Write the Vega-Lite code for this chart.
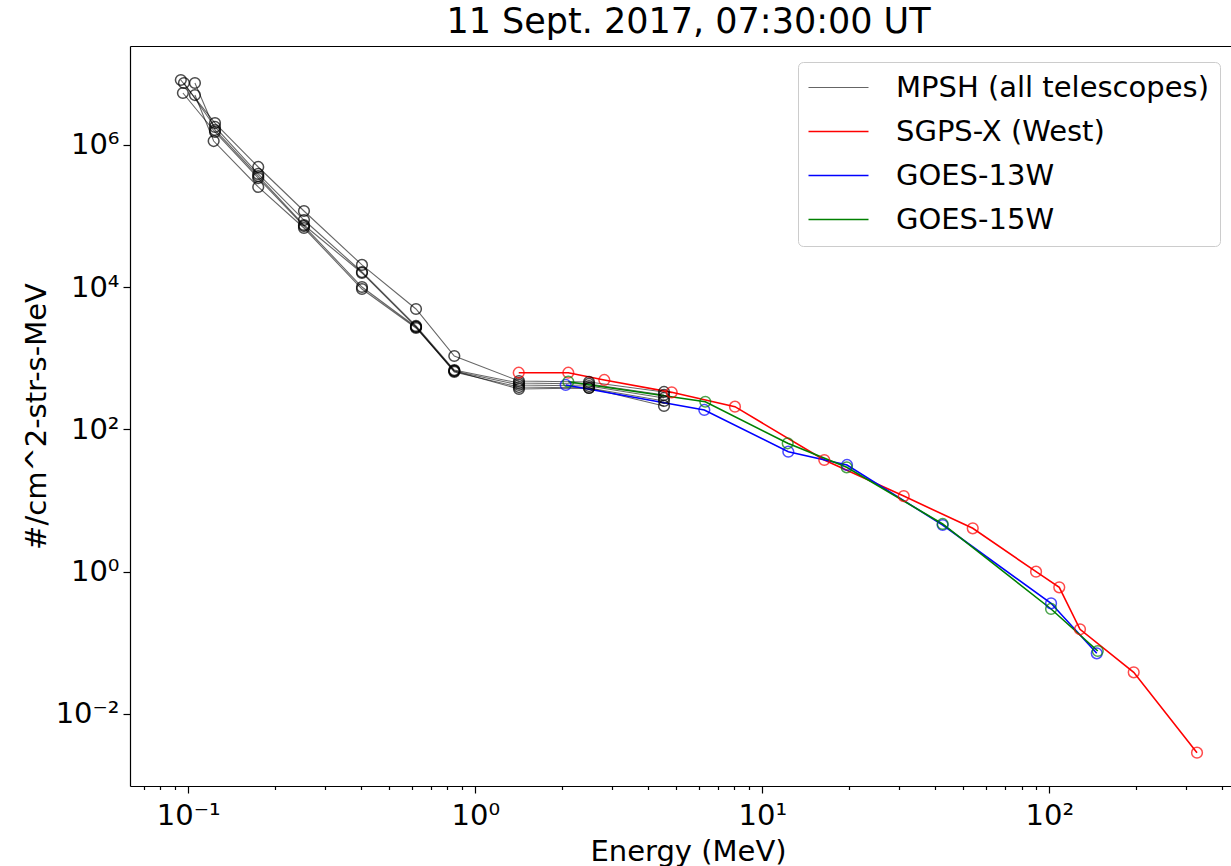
{
  "$schema": "https://vega.github.io/schema/vega-lite/v6.json",
  "width": 1101,
  "height": 740,
  "autosize": {"type": "none"},
  "padding": {"left": 130, "top": 46, "right": 0, "bottom": 80},
  "background": "white",
  "config": {
    "font": "DejaVu Sans",
    "view": {"stroke": null},
    "axis": {"domainColor": "black", "tickColor": "black", "labelColor": "black", "titleColor": "black", "grid": false, "labelFont": "DejaVu Sans", "titleFont": "DejaVu Sans", "titleFontWeight": "normal", "domainWidth": 1.2, "tickWidth": 1.2}
  },
  "title": {"text": "11 Sept. 2017, 07:30:00 UT", "fontSize": 35, "fontWeight": "normal", "font": "DejaVu Sans", "color": "black", "anchor": "middle", "dx": 8, "dy": 34, "offset": 12, "baseline": "alphabetic"},
  "data": {"values": [
    {"series": "MPSH (all telescopes)", "tel": "T1", "E": 0.0942, "F": 8180000},
    {"series": "MPSH (all telescopes)", "tel": "T1", "E": 0.1239, "F": 2030000},
    {"series": "MPSH (all telescopes)", "tel": "T1", "E": 0.1753, "F": 489000},
    {"series": "MPSH (all telescopes)", "tel": "T1", "E": 0.253, "F": 117600},
    {"series": "MPSH (all telescopes)", "tel": "T1", "E": 0.4029, "F": 20500},
    {"series": "MPSH (all telescopes)", "tel": "T1", "E": 0.6215, "F": 4920},
    {"series": "MPSH (all telescopes)", "tel": "T1", "E": 0.845, "F": 1074},
    {"series": "MPSH (all telescopes)", "tel": "T1", "E": 1.42, "F": 478},
    {"series": "MPSH (all telescopes)", "tel": "T1", "E": 2.49, "F": 463},
    {"series": "MPSH (all telescopes)", "tel": "T1", "E": 4.545, "F": 335},
    {"series": "MPSH (all telescopes)", "tel": "T2", "E": 0.0966, "F": 7420000},
    {"series": "MPSH (all telescopes)", "tel": "T2", "E": 0.1239, "F": 1786000},
    {"series": "MPSH (all telescopes)", "tel": "T2", "E": 0.1753, "F": 390000},
    {"series": "MPSH (all telescopes)", "tel": "T2", "E": 0.253, "F": 87800},
    {"series": "MPSH (all telescopes)", "tel": "T2", "E": 0.4029, "F": 16300},
    {"series": "MPSH (all telescopes)", "tel": "T2", "E": 0.6215, "F": 2840},
    {"series": "MPSH (all telescopes)", "tel": "T2", "E": 0.845, "F": 682},
    {"series": "MPSH (all telescopes)", "tel": "T2", "E": 1.42, "F": 448},
    {"series": "MPSH (all telescopes)", "tel": "T2", "E": 2.49, "F": 434},
    {"series": "MPSH (all telescopes)", "tel": "T2", "E": 4.545, "F": 304},
    {"series": "MPSH (all telescopes)", "tel": "T3", "E": 0.1055, "F": 7420000},
    {"series": "MPSH (all telescopes)", "tel": "T3", "E": 0.1239, "F": 1620000},
    {"series": "MPSH (all telescopes)", "tel": "T3", "E": 0.1753, "F": 365000},
    {"series": "MPSH (all telescopes)", "tel": "T3", "E": 0.253, "F": 74700},
    {"series": "MPSH (all telescopes)", "tel": "T3", "E": 0.4029, "F": 15800},
    {"series": "MPSH (all telescopes)", "tel": "T3", "E": 0.6215, "F": 2750},
    {"series": "MPSH (all telescopes)", "tel": "T3", "E": 0.845, "F": 661},
    {"series": "MPSH (all telescopes)", "tel": "T3", "E": 1.42, "F": 420},
    {"series": "MPSH (all telescopes)", "tel": "T3", "E": 2.49, "F": 406},
    {"series": "MPSH (all telescopes)", "tel": "T3", "E": 4.545, "F": 276},
    {"series": "MPSH (all telescopes)", "tel": "T4", "E": 0.0958, "F": 5370000},
    {"series": "MPSH (all telescopes)", "tel": "T4", "E": 0.1239, "F": 1519000},
    {"series": "MPSH (all telescopes)", "tel": "T4", "E": 0.1753, "F": 342000},
    {"series": "MPSH (all telescopes)", "tel": "T4", "E": 0.253, "F": 72300},
    {"series": "MPSH (all telescopes)", "tel": "T4", "E": 0.4029, "F": 10030},
    {"series": "MPSH (all telescopes)", "tel": "T4", "E": 0.6215, "F": 2750},
    {"series": "MPSH (all telescopes)", "tel": "T4", "E": 0.845, "F": 640},
    {"series": "MPSH (all telescopes)", "tel": "T4", "E": 1.42, "F": 393},
    {"series": "MPSH (all telescopes)", "tel": "T4", "E": 2.49, "F": 381},
    {"series": "MPSH (all telescopes)", "tel": "T4", "E": 4.545, "F": 250},
    {"series": "MPSH (all telescopes)", "tel": "T5", "E": 0.1055, "F": 5030000},
    {"series": "MPSH (all telescopes)", "tel": "T5", "E": 0.1226, "F": 1134000},
    {"series": "MPSH (all telescopes)", "tel": "T5", "E": 0.1753, "F": 256000},
    {"series": "MPSH (all telescopes)", "tel": "T5", "E": 0.253, "F": 67800},
    {"series": "MPSH (all telescopes)", "tel": "T5", "E": 0.4029, "F": 9400},
    {"series": "MPSH (all telescopes)", "tel": "T5", "E": 0.6215, "F": 2660},
    {"series": "MPSH (all telescopes)", "tel": "T5", "E": 0.845, "F": 661},
    {"series": "MPSH (all telescopes)", "tel": "T5", "E": 1.42, "F": 369},
    {"series": "MPSH (all telescopes)", "tel": "T5", "E": 2.49, "F": 381},
    {"series": "MPSH (all telescopes)", "tel": "T5", "E": 4.545, "F": 213},
    {"series": "SGPS-X (West)", "tel": "S", "E": 1.417, "F": 625},
    {"series": "SGPS-X (West)", "tel": "S", "E": 2.109, "F": 625},
    {"series": "SGPS-X (West)", "tel": "S", "E": 2.815, "F": 494},
    {"series": "SGPS-X (West)", "tel": "S", "E": 4.834, "F": 331},
    {"series": "SGPS-X (West)", "tel": "S", "E": 8.03, "F": 208},
    {"series": "SGPS-X (West)", "tel": "S", "E": 16.44, "F": 37.0},
    {"series": "SGPS-X (West)", "tel": "S", "E": 31.1, "F": 11.5},
    {"series": "SGPS-X (West)", "tel": "S", "E": 54.1, "F": 4.05},
    {"series": "SGPS-X (West)", "tel": "S", "E": 89.9, "F": 0.994},
    {"series": "SGPS-X (West)", "tel": "S", "E": 108.3, "F": 0.599},
    {"series": "SGPS-X (West)", "tel": "S", "E": 127.9, "F": 0.154},
    {"series": "SGPS-X (West)", "tel": "S", "E": 196.8, "F": 0.0382},
    {"series": "SGPS-X (West)", "tel": "S", "E": 327, "F": 0.00283},
    {"series": "GOES-13W", "tel": "G13", "E": 2.065, "F": 420},
    {"series": "GOES-13W", "tel": "G13", "E": 6.28, "F": 187},
    {"series": "GOES-13W", "tel": "G13", "E": 12.32, "F": 48.4},
    {"series": "GOES-13W", "tel": "G13", "E": 19.73, "F": 31.5},
    {"series": "GOES-13W", "tel": "G13", "E": 42.5, "F": 4.51},
    {"series": "GOES-13W", "tel": "G13", "E": 101.4, "F": 0.357},
    {"series": "GOES-13W", "tel": "G13", "E": 146.3, "F": 0.0707},
    {"series": "GOES-15W", "tel": "G15", "E": 2.109, "F": 467},
    {"series": "GOES-15W", "tel": "G15", "E": 6.33, "F": 244},
    {"series": "GOES-15W", "tel": "G15", "E": 12.26, "F": 63.6},
    {"series": "GOES-15W", "tel": "G15", "E": 19.68, "F": 29.2},
    {"series": "GOES-15W", "tel": "G15", "E": 42.5, "F": 4.66},
    {"series": "GOES-15W", "tel": "G15", "E": 101.4, "F": 0.297},
    {"series": "GOES-15W", "tel": "G15", "E": 147.5, "F": 0.0762}
  ]},
  "layer": [
    {
      "mark": {"type": "line", "clip": true},
      "encoding": {
        "x": {"field": "E", "type": "quantitative",
          "scale": {"type": "log", "domain": [0.06266, 429.5], "nice": false, "zero": false},
          "axis": {"orient": "bottom",
            "values": [0.07, 0.08, 0.09, 0.1, 0.2, 0.3, 0.4, 0.5, 0.6, 0.7, 0.8, 0.9, 1, 2, 3, 4, 5, 6, 7, 8, 9, 10, 20, 30, 40, 50, 60, 70, 80, 90, 100, 200, 300, 400],
            "labelExpr": "abs(log(datum.value)/LN10 - round(log(datum.value)/LN10)) < 0.001 ? '10' + ['⁻³','⁻²','⁻¹','⁰','¹','²','³','⁴','⁵','⁶','⁷'][round(log(datum.value)/LN10)+3] : ''",
            "tickSize": {"condition": {"test": "abs(log(datum.value)/LN10 - round(log(datum.value)/LN10)) < 0.001", "value": 7}, "value": 3.5},
            "labelFontSize": 29, "labelPadding": 8, "labelOverlap": false, "labelFlush": false,
            "title": "Energy (MeV)", "titleFontSize": 29, "titleX": 558, "titleY": 74, "titleBaseline": "alphabetic", "titleAlign": "center"}},
        "y": {"field": "F", "type": "quantitative",
          "scale": {"type": "log", "domain": [0.000962, 24600000], "nice": false, "zero": false},
          "axis": {"values": [0.01, 1, 100, 10000, 1000000],
            "labelExpr": "'10' + ['⁻³','⁻²','⁻¹','⁰','¹','²','³','⁴','⁵','⁶','⁷'][round(log(datum.value)/LN10)+3]",
            "tickSize": 7, "labelFontSize": 29, "labelPadding": 4,
            "title": "#/cm^2-str-s-MeV", "titleFontSize": 29, "titleX": -85, "titleY": 370, "titleBaseline": "alphabetic", "titleAlign": "center", "titleAngle": -90}},
        "color": {"field": "series", "type": "nominal",
          "scale": {"domain": ["MPSH (all telescopes)", "SGPS-X (West)", "GOES-13W", "GOES-15W"], "range": ["black", "#ff0000", "#0000ff", "#008000"]},
          "legend": {"orient": "none", "legendX": 668, "legendY": 16, "title": null,
            "symbolType": "stroke", "symbolSize": 3600, "symbolStrokeWidth": 1.6, "symbolOffset": 15,
            "labelFontSize": 29, "labelFont": "DejaVu Sans", "labelColor": "black", "labelOffset": 43, "labelLimit": 600,
            "labelExpr": "datum.label + '\u00a0\u00a0\u00a0'",
            "padding": 11, "rowPadding": 14, "strokeColor": "#cccccc", "fillColor": "white", "cornerRadius": 5,
            "encode": {"symbols": {"update": {
              "strokeWidth": {"signal": "datum.value === 'MPSH (all telescopes)' ? 1.1 : 1.6"},
              "opacity": {"signal": "datum.value === 'MPSH (all telescopes)' ? 0.6 : 1"}}}}}},
        "detail": {"field": "tel"},
        "strokeWidth": {"condition": {"test": "datum.series === 'MPSH (all telescopes)'", "value": 1.1}, "value": 1.6},
        "strokeOpacity": {"condition": {"test": "datum.series === 'MPSH (all telescopes)'", "value": 0.6}, "value": 1}
      }
    },
    {
      "mark": {"type": "point", "shape": "circle", "filled": false, "size": 115, "strokeWidth": 1.5, "clip": true},
      "encoding": {
        "x": {"field": "E", "type": "quantitative",
          "scale": {"type": "log", "domain": [0.06266, 429.5], "nice": false, "zero": false},
          "axis": {"orient": "top", "ticks": false, "labels": false, "title": null, "domain": true, "grid": false}},
        "y": {"field": "F", "type": "quantitative",
          "scale": {"type": "log", "domain": [0.000962, 24600000], "nice": false, "zero": false},
          "axis": {"values": [0.01, 1, 100, 10000, 1000000],
            "labelExpr": "'10' + ['⁻³','⁻²','⁻¹','⁰','¹','²','³','⁴','⁵','⁶','⁷'][round(log(datum.value)/LN10)+3]",
            "tickSize": 7, "labelFontSize": 29, "labelPadding": 4,
            "title": "#/cm^2-str-s-MeV", "titleFontSize": 29, "titleX": -85, "titleY": 370, "titleBaseline": "alphabetic", "titleAlign": "center", "titleAngle": -90}},
        "color": {"field": "series", "type": "nominal"}
      }
    }
  ],
  "resolve": {"axis": {"x": "independent"}}
}
